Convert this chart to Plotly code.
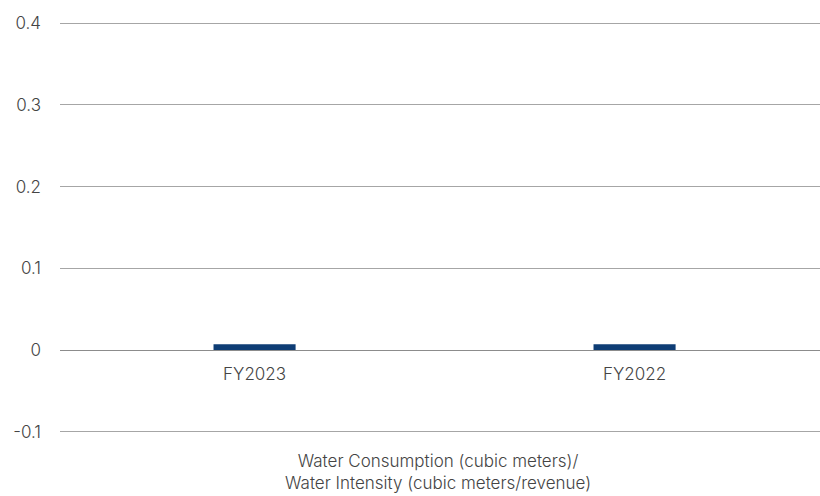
import plotly.graph_objects as go

categories = ["FY2023", "FY2022"]
values = [0.007, 0.007]
y_ticks = [-0.1, 0, 0.1, 0.2, 0.3, 0.4]
y_tick_labels = ["-0.1", "0", "0.1", "0.2", "0.3", "0.4"]
axis_title = "Water Consumption (cubic meters)/<br>Water Intensity (cubic meters/revenue)"

FONT = "Inter, Roboto, sans-serif"
TEXT = "#444444"
SIZE = 17
WEIGHT = 300

fig = go.Figure(
    go.Bar(
        x=categories,
        y=values,
        marker=dict(color="#0e3d75", line=dict(width=0)),
        width=0.216,
    )
)

# small padding so the outermost gridlines stay inside the plot area
y_min, y_max = -0.1, 0.4
pad = 0.004
lo, hi = y_min - pad, y_max + pad
zero_pos = (0 - lo) / (hi - lo)

fig.update_layout(
    width=820,
    height=496,
    margin=dict(l=60, r=0, t=20, b=61),
    paper_bgcolor="white",
    plot_bgcolor="white",
    showlegend=False,
    font=dict(family=FONT, size=SIZE, color=TEXT, weight=WEIGHT),
    xaxis=dict(
        range=[-0.512, 1.488],
        anchor="free",
        position=zero_pos,
        showgrid=False,
        showline=False,
        zeroline=False,
        ticks="",
        tickfont=dict(family=FONT, size=SIZE, color=TEXT, weight=WEIGHT),
        ticklabelstandoff=12,
    ),
    yaxis=dict(
        range=[lo, hi],
        tickvals=y_ticks,
        ticktext=y_tick_labels,
        showgrid=True,
        gridcolor="#a6a6a6",
        gridwidth=1,
        zeroline=True,
        zerolinecolor="#8c8c8c",
        zerolinewidth=1,
        showline=False,
        ticks="",
        ticklabelstandoff=18,
        tickfont=dict(family=FONT, size=SIZE, color=TEXT, weight=WEIGHT),
    ),
    annotations=[
        dict(
            text=axis_title,
            xref="paper",
            yref="paper",
            x=0.497,
            y=0,
            yshift=-14,
            xanchor="center",
            yanchor="top",
            showarrow=False,
            font=dict(family=FONT, size=SIZE, color=TEXT, weight=WEIGHT),
            align="center",
        )
    ],
)

fig.write_html("out.html")
